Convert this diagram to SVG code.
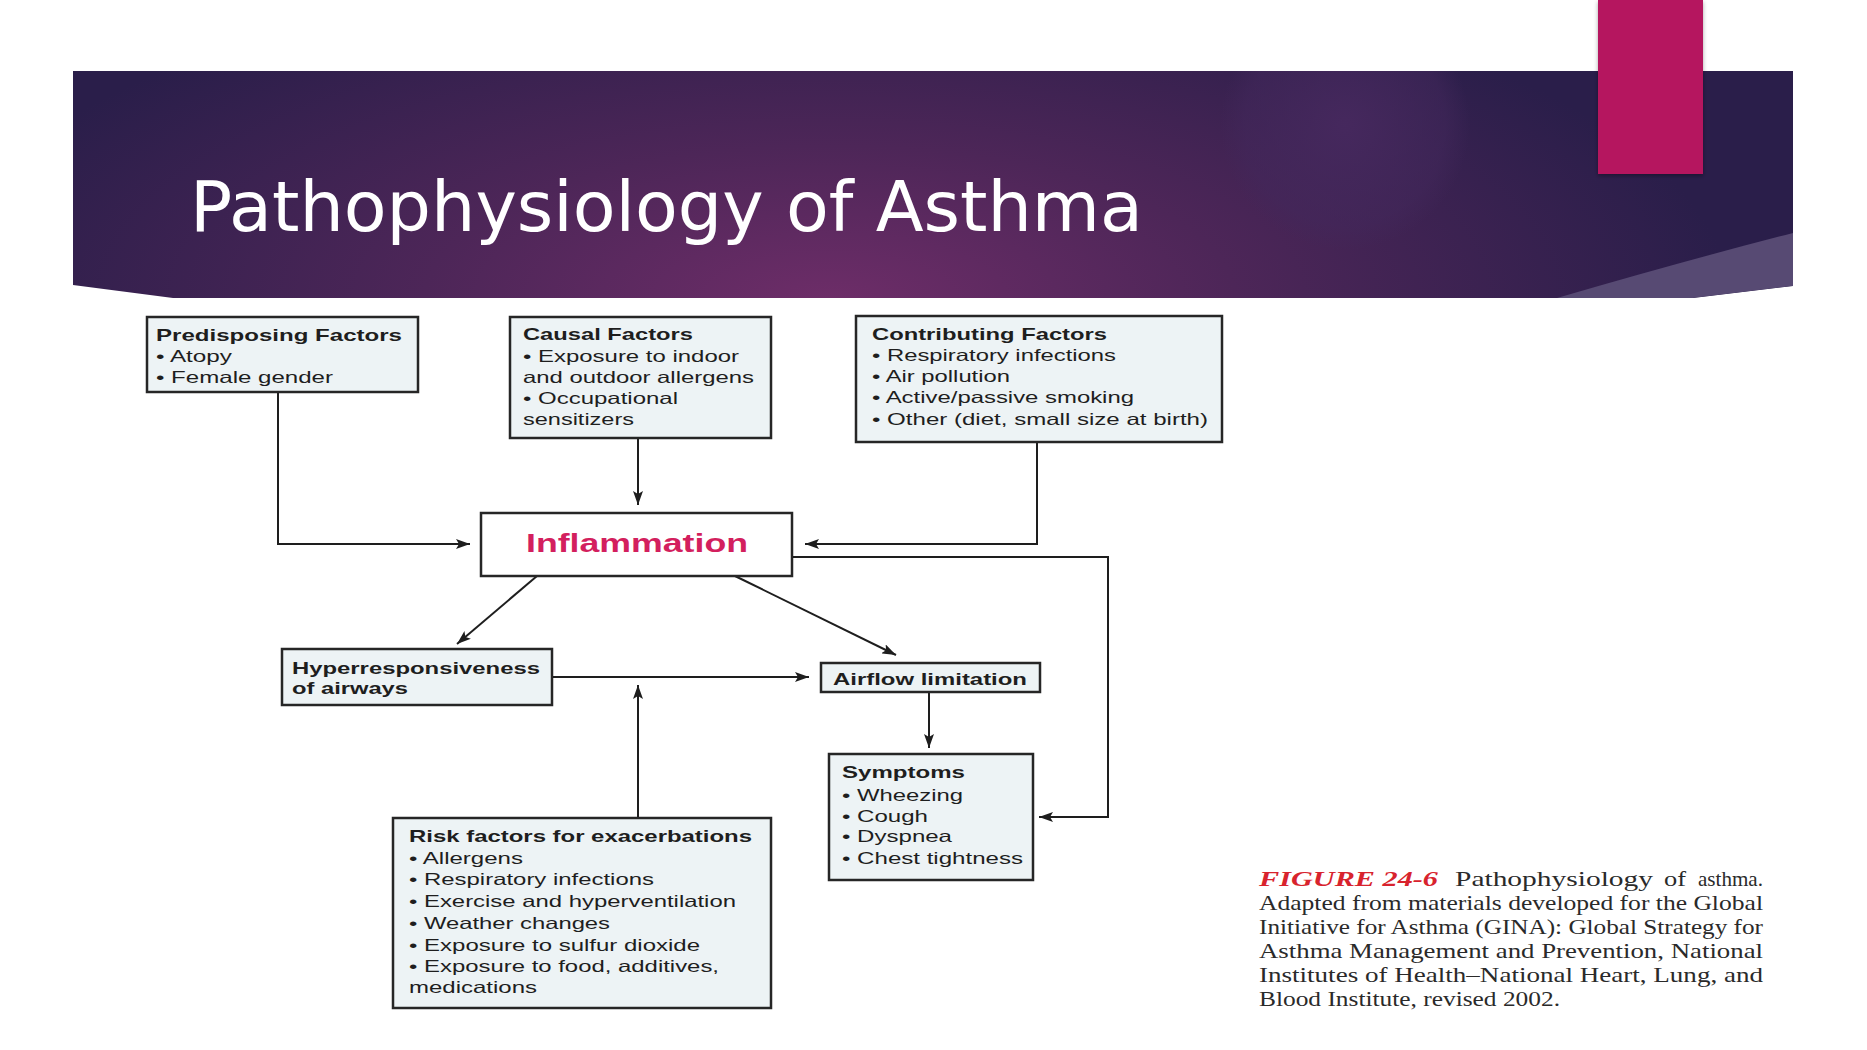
<svg xmlns="http://www.w3.org/2000/svg" width="1867" height="1050" viewBox="0 0 1867 1050">
<defs>
<radialGradient id="bannerGrad" gradientUnits="userSpaceOnUse" cx="830" cy="300" r="900" gradientTransform="translate(830 300) scale(1 0.38) translate(-830 -300)">
<stop offset="0" stop-color="#6d2d68"/>
<stop offset="0.45" stop-color="#4d2658"/>
<stop offset="1" stop-color="#2a1e4a"/>
</radialGradient>
<radialGradient id="glow" cx="0.5" cy="0.5" r="0.5">
<stop offset="0" stop-color="#47295f" stop-opacity="0.9"/>
<stop offset="0.8" stop-color="#43285c" stop-opacity="0.5"/>
<stop offset="1" stop-color="#43285c" stop-opacity="0"/>
</radialGradient>
<clipPath id="bannerClip">
<path d="M73,71 L1793,71 L1793,286 L1693,298 L173,298 L73,285 Z"/>
</clipPath>
<filter id="shadow" x="-20%" y="-20%" width="140%" height="140%">
<feDropShadow dx="0" dy="2" stdDeviation="2" flood-color="#000" flood-opacity="0.35"/>
</filter>
<marker id="ah" markerWidth="14" markerHeight="10" refX="14" refY="5" orient="auto" markerUnits="userSpaceOnUse">
<path d="M0,0 L14,5 L0,10 L3,5 Z" fill="#1e1e1e"/>
</marker>
</defs>
<style>
.box{fill:#edf3f5;stroke:#262626;stroke-width:2.5}
.t{font-family:"Liberation Sans",Arial,sans-serif;font-size:16.5px;fill:#1e1e1e}
.b{font-weight:bold}
.conn{fill:none;stroke:#1e1e1e;stroke-width:2;marker-end:url(#ah)}
.cap{font-family:"Liberation Serif","Times New Roman",serif;font-size:21px;fill:#2a2a2a}
.fig{fill:#d8232d;font-style:italic;font-weight:bold}
</style>
<rect x="0" y="0" width="1867" height="1050" fill="#ffffff"/>

<g id="banner">
<path d="M73,71 L1793,71 L1793,286 L1693,298 L173,298 L73,285 Z" fill="url(#bannerGrad)"/>
<g clip-path="url(#bannerClip)">
<ellipse cx="1345" cy="125" rx="125" ry="125" fill="url(#glow)"/>
<path d="M1557,298 Q1680,262 1793,233 L1793,286 L1693,298 Z" fill="#574a73"/>
</g>
<rect x="1598" y="0" width="105" height="174" fill="#b5135f" filter="url(#shadow)"/>
<text x="190" y="231" font-family="'DejaVu Sans',sans-serif" font-size="70" fill="#ffffff">Pathophysiology of Asthma</text>
</g>

<g id="connectors">
<polyline class="conn" points="278,392 278,544 470,544"/>
<line class="conn" x1="638" y1="438" x2="638" y2="505"/>
<polyline class="conn" points="1037,442 1037,544 805,544"/>
<polyline class="conn" points="792,557 1108,557 1108,817 1039,817"/>
<line class="conn" x1="537" y1="576" x2="457" y2="644"/>
<line class="conn" x1="735" y1="576" x2="896" y2="655"/>
<line class="conn" x1="552" y1="677" x2="809" y2="677"/>
<line class="conn" x1="638" y1="818" x2="638" y2="685"/>
<line class="conn" x1="929" y1="692" x2="929" y2="748"/>
</g>

<g id="predisposing">
<rect class="box" x="147" y="317" width="271" height="75"/>
<text class="t b" x="156" y="341" textLength="246" lengthAdjust="spacingAndGlyphs">Predisposing Factors</text>
<text class="t" x="156" y="362" textLength="76" lengthAdjust="spacingAndGlyphs">• Atopy</text>
<text class="t" x="156" y="383" textLength="177" lengthAdjust="spacingAndGlyphs">• Female gender</text>
</g>

<g id="causal">
<rect class="box" x="510" y="317" width="261" height="121"/>
<text class="t b" x="523" y="340" textLength="170" lengthAdjust="spacingAndGlyphs">Causal Factors</text>
<text class="t" x="523" y="362" textLength="216" lengthAdjust="spacingAndGlyphs">• Exposure to indoor</text>
<text class="t" x="523" y="383" textLength="231" lengthAdjust="spacingAndGlyphs">and outdoor allergens</text>
<text class="t" x="523" y="404" textLength="155" lengthAdjust="spacingAndGlyphs">• Occupational</text>
<text class="t" x="523" y="425" textLength="111" lengthAdjust="spacingAndGlyphs">sensitizers</text>
</g>

<g id="contributing">
<rect class="box" x="856" y="316" width="366" height="126"/>
<text class="t b" x="872" y="340" textLength="235" lengthAdjust="spacingAndGlyphs">Contributing Factors</text>
<text class="t" x="872" y="361" textLength="244" lengthAdjust="spacingAndGlyphs">• Respiratory infections</text>
<text class="t" x="872" y="382" textLength="138" lengthAdjust="spacingAndGlyphs">• Air pollution</text>
<text class="t" x="872" y="403" textLength="262" lengthAdjust="spacingAndGlyphs">• Active/passive smoking</text>
<text class="t" x="872" y="425" textLength="336" lengthAdjust="spacingAndGlyphs">• Other (diet, small size at birth)</text>
</g>

<g id="inflammation">
<rect x="481" y="513" width="311" height="63" fill="#ffffff" stroke="#262626" stroke-width="2.5"/>
<text x="637" y="552" text-anchor="middle" font-family="'Liberation Sans',Arial,sans-serif" font-weight="bold" font-size="26.5" fill="#d31f5e" textLength="222" lengthAdjust="spacingAndGlyphs">Inflammation</text>
</g>

<g id="hyperresponsiveness">
<rect class="box" x="282" y="649" width="270" height="56"/>
<text class="t b" x="292" y="674" textLength="248" lengthAdjust="spacingAndGlyphs">Hyperresponsiveness</text>
<text class="t b" x="292" y="694" textLength="116" lengthAdjust="spacingAndGlyphs">of airways</text>
</g>

<g id="airflow">
<rect class="box" x="821" y="663" width="219" height="29"/>
<text class="t b" x="833" y="685" textLength="194" lengthAdjust="spacingAndGlyphs">Airflow limitation</text>
</g>

<g id="symptoms">
<rect class="box" x="829" y="754" width="204" height="126"/>
<text class="t b" x="842" y="778" textLength="123" lengthAdjust="spacingAndGlyphs">Symptoms</text>
<text class="t" x="842" y="801" textLength="121" lengthAdjust="spacingAndGlyphs">• Wheezing</text>
<text class="t" x="842" y="822" textLength="86" lengthAdjust="spacingAndGlyphs">• Cough</text>
<text class="t" x="842" y="842" textLength="110" lengthAdjust="spacingAndGlyphs">• Dyspnea</text>
<text class="t" x="842" y="864" textLength="181" lengthAdjust="spacingAndGlyphs">• Chest tightness</text>
</g>

<g id="risk">
<rect class="box" x="393" y="818" width="378" height="190"/>
<text class="t b" x="409" y="842" textLength="343" lengthAdjust="spacingAndGlyphs">Risk factors for exacerbations</text>
<text class="t" x="409" y="864" textLength="114" lengthAdjust="spacingAndGlyphs">• Allergens</text>
<text class="t" x="409" y="885" textLength="245" lengthAdjust="spacingAndGlyphs">• Respiratory infections</text>
<text class="t" x="409" y="907" textLength="327" lengthAdjust="spacingAndGlyphs">• Exercise and hyperventilation</text>
<text class="t" x="409" y="929" textLength="201" lengthAdjust="spacingAndGlyphs">• Weather changes</text>
<text class="t" x="409" y="951" textLength="291" lengthAdjust="spacingAndGlyphs">• Exposure to sulfur dioxide</text>
<text class="t" x="409" y="972" textLength="310" lengthAdjust="spacingAndGlyphs">• Exposure to food, additives,</text>
<text class="t" x="409" y="993" textLength="128" lengthAdjust="spacingAndGlyphs">medications</text>
</g>

<g id="caption">
<text class="cap fig" x="1259" y="886" textLength="179" lengthAdjust="spacingAndGlyphs">FIGURE 24-6</text>
<text class="cap" x="1455" y="886" textLength="198" lengthAdjust="spacingAndGlyphs">Pathophysiology</text>
<text class="cap" x="1664" y="886" textLength="22" lengthAdjust="spacingAndGlyphs">of</text>
<text class="cap" x="1698" y="886" textLength="65" lengthAdjust="spacingAndGlyphs">asthma.</text>
<text class="cap" x="1259" y="910" textLength="504" lengthAdjust="spacingAndGlyphs">Adapted from materials developed for the Global</text>
<text class="cap" x="1259" y="934" textLength="504" lengthAdjust="spacingAndGlyphs">Initiative for Asthma (GINA): Global Strategy for</text>
<text class="cap" x="1259" y="958" textLength="504" lengthAdjust="spacingAndGlyphs">Asthma Management and Prevention, National</text>
<text class="cap" x="1259" y="982" textLength="504" lengthAdjust="spacingAndGlyphs">Institutes of Health–National Heart, Lung, and</text>
<text class="cap" x="1259" y="1006" textLength="301" lengthAdjust="spacingAndGlyphs">Blood Institute, revised 2002.</text>
</g>
</svg>
